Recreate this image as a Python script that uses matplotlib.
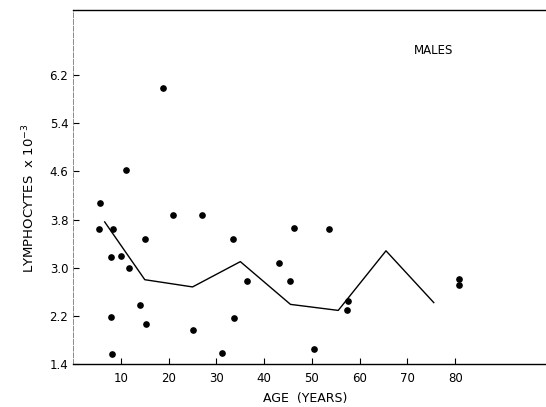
import matplotlib
matplotlib.use("Agg")
import matplotlib.pyplot as plt

# Individual observations (age in years, lymphocytes x 10^-3)
ages = [5.6, 5.5, 8.3, 7.9, 10.0, 11.1, 11.7, 8.0, 8.1, 14.0, 15.0, 15.2,
        18.9, 21.0, 27.0, 25.1, 31.2, 33.4, 33.6, 36.3, 43.2, 45.5, 46.2,
        53.5, 50.4, 57.5, 57.3, 80.8, 80.8]
counts = [4.08, 3.64, 3.65, 3.18, 3.19, 4.62, 2.99, 2.18, 1.57, 2.38, 3.48, 2.07,
          5.99, 3.88, 3.87, 1.97, 1.59, 3.48, 2.17, 2.78, 3.08, 2.78, 3.66,
          3.65, 1.65, 2.44, 2.29, 2.81, 2.71]

# Mean curve by age group
mean_ages = [6.6, 15, 25, 35, 45.5, 55.5, 65.5, 75.5]
mean_counts = [3.76, 2.80, 2.68, 3.10, 2.39, 2.29, 3.28, 2.42]

x_ticks = [10, 20, 30, 40, 50, 60, 70, 80]
x_tick_labels = ["10", "20", "30", "40", "50", "60", "70", "80"]
y_ticks = [1.4, 2.2, 3.0, 3.8, 4.6, 5.4, 6.2]
y_tick_labels = ["1.4", "2.2", "3.0", "3.8", "4.6", "5.4", "6.2"]

fig = plt.figure(figsize=(5.46, 4.07), dpi=100)
ax = fig.add_axes([0.134, 0.1057, 0.866, 0.8697])

ax.plot(mean_ages, mean_counts, color="black", lw=1.0)
ax.plot(ages, counts, "o", color="black", ms=3.8, mec="black")

ax.set_xlim(0, 99)
ax.set_ylim(1.4, 7.28)

ax.set_xticks(x_ticks)
ax.set_xticklabels(x_tick_labels)
ax.set_yticks(y_ticks)
ax.set_yticklabels(y_tick_labels)
ax.tick_params(direction="in", length=4, width=0.8, labelsize=8.5, colors="black")
ax.tick_params(axis="x", pad=6)

ax.spines["right"].set_visible(False)
ax.spines["left"].set_color("#777777")
ax.spines["left"].set_linewidth(0.6)
ax.spines["left"].set_linestyle((0, (6, 2)))
ax.spines["top"].set_linewidth(1.0)
ax.spines["bottom"].set_linewidth(1.0)

ax.set_xlabel("AGE  (YEARS)", fontsize=9)
ax.xaxis.set_label_coords(0.49, -0.079)
ax.set_ylabel("LYMPHOCYTES  x 10$^{-3}$", fontsize=9.5)
ax.yaxis.set_label_coords(-0.075, 0.469)

ax.text(0.763, 0.887, "MALES", transform=ax.transAxes, fontsize=8.5,
        ha="center", va="center")

fig.savefig("out.png", dpi=100)
